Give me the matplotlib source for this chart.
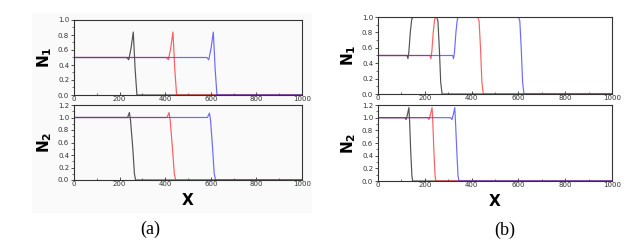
import matplotlib
matplotlib.use("Agg")
import matplotlib.pyplot as plt
from matplotlib.ticker import MultipleLocator, FormatStrFormatter
from matplotlib.patches import Rectangle

# ---------------- data ----------------
# panel (a), N1
a1_black_x = [0, 232, 240, 250, 260, 268, 276, 1000]
a1_black_y = [0.5, 0.5, 0.47, 0.62, 0.84, 0.35, 0.0, 0.0]
a1_red_x = [0, 406, 414, 424, 434, 442, 450, 1000]
a1_red_y = [0.5, 0.5, 0.47, 0.62, 0.84, 0.35, 0.0, 0.0]
a1_blue_x = [0, 583, 591, 601, 611, 619, 627, 1000]
a1_blue_y = [0.5, 0.5, 0.47, 0.62, 0.84, 0.35, 0.0, 0.0]

# panel (a), N2
a2_black_x = [0, 225, 235, 243, 248, 258, 265, 270, 1000]
a2_black_y = [1.0, 1.0, 1.0, 1.08, 0.95, 0.5, 0.1, 0.0, 0.0]
a2_red_x = [0, 398, 408, 417, 422, 432, 440, 446, 1000]
a2_red_y = [1.0, 1.0, 1.0, 1.08, 0.95, 0.5, 0.1, 0.0, 0.0]
a2_blue_x = [0, 575, 585, 594, 599, 608, 615, 621, 1000]
a2_blue_y = [1.0, 1.0, 1.0, 1.07, 0.95, 0.5, 0.1, 0.0, 0.0]

# panel (b), N1
b1_black_x = [0, 124, 128, 132, 138, 144, 150, 250, 256, 262, 268, 274, 1000]
b1_black_y = [0.5, 0.5, 0.46, 0.55, 0.8, 0.97, 1.0, 1.0, 0.95, 0.6, 0.15, 0.0, 0.0]
b1_red_x = [0, 222, 226, 230, 236, 242, 248, 426, 432, 438, 444, 450, 1000]
b1_red_y = [0.5, 0.5, 0.46, 0.55, 0.8, 0.97, 1.0, 1.0, 0.95, 0.6, 0.15, 0.0, 0.0]
b1_blue_x = [0, 319, 323, 327, 333, 339, 345, 600, 606, 612, 618, 624, 1000]
b1_blue_y = [0.5, 0.5, 0.46, 0.55, 0.8, 0.97, 1.0, 1.0, 0.95, 0.6, 0.15, 0.0, 0.0]

# panel (b), N2
b2_black_x = [0, 115, 120, 126, 132, 135, 140, 145, 148, 1000]
b2_black_y = [1.0, 1.0, 0.97, 1.05, 1.16, 0.95, 0.45, 0.08, 0.0, 0.0]
b2_red_x = [0, 213, 218, 224, 231, 234, 239, 244, 247, 1000]
b2_red_y = [1.0, 1.0, 0.97, 1.05, 1.16, 0.95, 0.45, 0.08, 0.0, 0.0]
b2_blue_x = [0, 310, 316, 322, 328, 331, 337, 342, 346, 1000]
b2_blue_y = [1.0, 1.0, 0.97, 1.05, 1.16, 0.95, 0.45, 0.08, 0.0, 0.0]

x_ticks = [0, 200, 400, 600, 800, 1000]
n1_ticks = [0.0, 0.2, 0.4, 0.6, 0.8, 1.0]
n2_ticks = [0.0, 0.2, 0.4, 0.6, 0.8, 1.0, 1.2]
panel_labels = ["(a)", "(b)"]

# ---------------- figure ----------------
W, H = 641, 247
fig = plt.figure(figsize=(W / 100, H / 100), dpi=100)
fig.patch.set_facecolor("white")

def box(x0, y0, x1, y1):
    return [x0 / W, 1 - y1 / H, (x1 - x0) / W, (y1 - y0) / H]

# faint scanned background of panel (a)
bg = Rectangle((32 / W, 1 - 213 / H), (312 - 32) / W, (213 - 13) / H,
               transform=fig.transFigure, facecolor="#fafafa",
               edgecolor="none", zorder=-10)
fig.patches.append(bg)

ax_a1 = fig.add_axes(box(74, 20, 302, 95))
ax_a2 = fig.add_axes(box(74, 105, 302, 180))
ax_b1 = fig.add_axes(box(378, 17, 612, 94))
ax_b2 = fig.add_axes(box(378, 105, 612, 181))

cols = ["#1a1a1a", "#ff2a2a", "#3a3aff"]

def draw(ax, series, yticks, ylabel):
    ax.set_zorder(1)
    for (xs, ys), c in zip(series, cols):
        ax.plot(xs, ys, color=c, lw=0.85, alpha=0.75)
    ax.set_xlim(0, 1000)
    ax.set_ylim(yticks[0], yticks[-1])
    ax.set_xticks(x_ticks)
    ax.set_yticks(yticks)
    ax.xaxis.set_minor_locator(MultipleLocator(100))
    ax.yaxis.set_minor_locator(MultipleLocator(0.1))
    ax.yaxis.set_major_formatter(FormatStrFormatter("%.1f"))
    ax.set_facecolor("none")
    for s in ax.spines.values():
        s.set_color("#333333")
        s.set_linewidth(0.8)
    ax.tick_params(axis="both", which="major", labelsize=5, colors="#333333",
                   length=2.5, width=0.6, pad=1)
    ax.tick_params(axis="both", which="minor", length=1.5, width=0.5, colors="#333333")
    ax.tick_params(axis="x", which="both", direction="in")
    ax.tick_params(axis="y", which="both", direction="out")
    ax.set_ylabel(ylabel, fontsize=11, fontweight="bold", labelpad=3)

draw(ax_a1, [(a1_black_x, a1_black_y), (a1_red_x, a1_red_y), (a1_blue_x, a1_blue_y)],
     n1_ticks, r"$\mathbf{N_1}$")
draw(ax_a2, [(a2_black_x, a2_black_y), (a2_red_x, a2_red_y), (a2_blue_x, a2_blue_y)],
     n2_ticks, r"$\mathbf{N_2}$")
draw(ax_b1, [(b1_black_x, b1_black_y), (b1_red_x, b1_red_y), (b1_blue_x, b1_blue_y)],
     n1_ticks, r"$\mathbf{N_1}$")
draw(ax_b2, [(b2_black_x, b2_black_y), (b2_red_x, b2_red_y), (b2_blue_x, b2_blue_y)],
     n2_ticks, r"$\mathbf{N_2}$")

for ax in (ax_a2, ax_b2):
    ax.set_xlabel("X", fontsize=11, fontweight="bold", labelpad=4)

fig.text(150 / W, 1 - 229 / H, panel_labels[0], fontsize=13, family="Liberation Serif",
         ha="center", va="center")
fig.text(505 / W, 1 - 230 / H, panel_labels[1], fontsize=13, family="Liberation Serif",
         ha="center", va="center")

fig.savefig("out.png", dpi=100)
